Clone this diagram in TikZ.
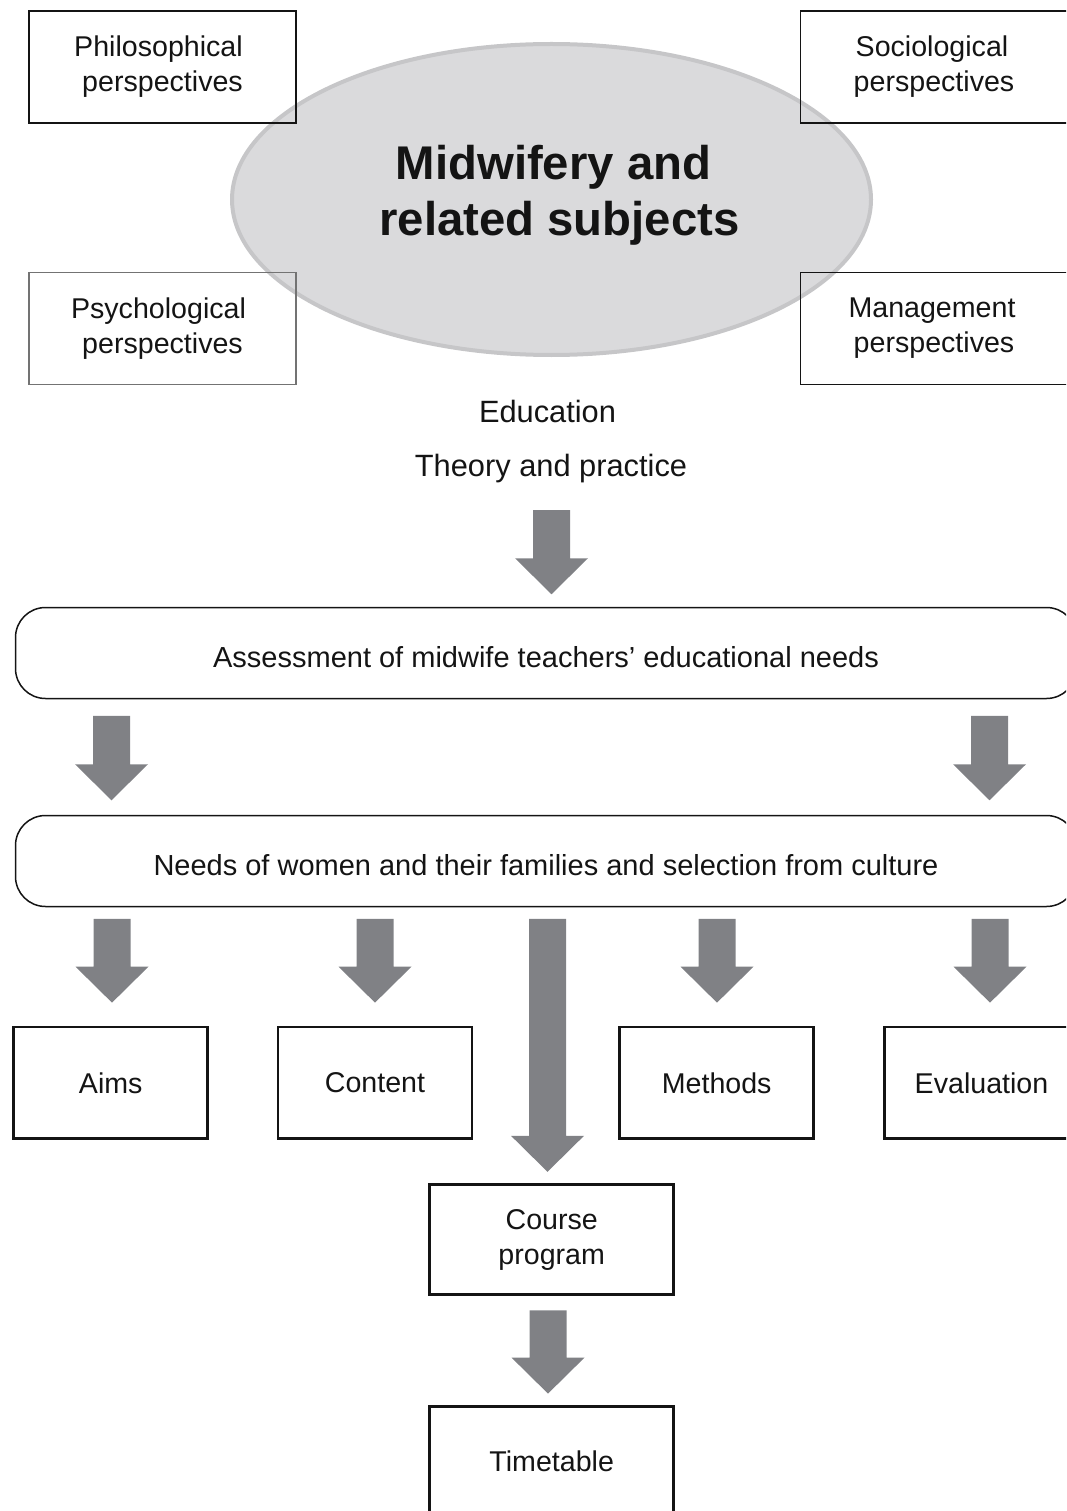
\documentclass[tikz,border=0pt]{standalone}
\usepackage{fontspec}
\setmainfont{Liberation Sans}
\usetikzlibrary{calc,shapes.geometric}
\definecolor{arrowgray}{RGB}{128,129,133}
\definecolor{ovalfill}{RGB}{218,218,220}
\definecolor{ovaledge}{RGB}{198,198,200}
\definecolor{inkblack}{RGB}{20,20,20}
\tikzset{
  perspective/.style={draw=inkblack, line width=1.3pt, minimum width=267pt,
    minimum height=112pt, inner sep=0pt, align=center, text=inkblack,
    font=\fontsize{28.6}{35}\selectfont},
  stagebox/.style={draw=inkblack, line width=1.5pt, rounded corners=30pt,
    minimum width=1061pt, minimum height=91pt, inner sep=0pt, text=inkblack,
    text height=29pt, text depth=0pt,
    font=\fontsize{29}{35}\selectfont},
  itembox/.style={draw=inkblack, line width=2.8pt, minimum width=194pt,
    minimum height=111.5pt, inner sep=0pt, align=center, text=inkblack,
    font=\fontsize{28.6}{35}\selectfont},
  plaintext/.style={inner sep=0pt, anchor=base, text=inkblack,
    font=\fontsize{30.8}{37}\selectfont},
  % thick downward block arrow: shaft from the start point, tip at the target height
  blockarrow/.style={fill=arrowgray, draw=none,
    to path={let \p1=(\tikztostart), \p2=(\tikztotarget) in
      (\x1-18.5pt,\y1) -- (\x1+18.5pt,\y1) -- (\x1+18.5pt,\y2+36pt)
      -- (\x1+36.5pt,\y2+36pt) -- (\x1,\y2) -- (\x1-36.5pt,\y2+36pt)
      -- (\x1-18.5pt,\y2+36pt) -- cycle}},
}
\begin{document}
\begin{tikzpicture}[x=1pt,y=-1pt]
\clip (0,0) rectangle (1066,1511);

% central oval and its title
\node[ellipse, draw=ovaledge, fill=ovalfill, line width=4pt,
      minimum width=639pt, minimum height=311pt, inner sep=0pt] (core) at (551.5,199.5) {};
\node[font=\fontsize{47.3}{56}\selectfont\bfseries, align=center, text=inkblack,
      inner sep=0pt] (title) at (559.5,195) {Midwifery and\hspace*{12pt}\\related subjects};

% the four perspectives
\node[perspective] (philo) at (162.5,67) {Philosophical\hspace*{8pt}\\perspectives};
\node[perspective] (socio) at (934,67) {Sociological\hspace*{4pt}\\perspectives};
\node[perspective, draw=black!55] (psycho) at (162.5,328.5) {Psychological\hspace*{8pt}\\perspectives};
\node[perspective] (manage) at (934,328.5) {Management\hspace*{4pt}\\perspectives};

% education labels
\node[plaintext] (edu) at (547.5,422.7) {Education};
\node[plaintext] (theory) at (551,476.7) {Theory and practice};

% stages
\node[stagebox] (assess) at (546,653) {Assessment of midwife teachers’ educational needs};
\node[stagebox] (needs) at (546,861) {Needs of women and their families and selection from culture};

% curriculum elements
\node[itembox] (aims) at (110.7,1082.8) {Aims};
\node[itembox] (content) at (375,1082.8) {Content};
\node[itembox] (methods) at (716.7,1082.8) {Methods};
\node[itembox] (eval) at (981.5,1082.8) {Evaluation};
\node[itembox, minimum width=244pt, minimum height=110pt] (course) at (551.7,1239.7) {Course\\program};
\node[itembox, minimum width=244pt, minimum height=110pt] (timetable) at (551.7,1461.5) {Timetable};

% arrows
\path[blockarrow] ($(theory.south)+(0.5,26.8)$) to ($(assess.north)+(0,-12.5)$);
\path[blockarrow] ($(assess.south -| aims)+(0.8,16.5)$) to ($(needs.north -| aims)+(0,-14.5)$);
\path[blockarrow] ($(assess.south -| eval)+(8,16.5)$) to ($(needs.north -| eval)+(0,-14.5)$);

\path[blockarrow] ($(needs.south -| aims)+(1.3,11.5)$) to ($(aims.north)+(0,-23)$);
\path[blockarrow] ($(needs.south -| content)+(0,11.5)$) to ($(content.north)+(0,-23)$);
\path[blockarrow] ($(needs.south -| methods)+(0.3,11.5)$) to ($(methods.north)+(0,-23)$);
\path[blockarrow] ($(needs.south -| eval)+(8.5,11.5)$) to ($(eval.north)+(0,-23)$);
\path[blockarrow] ($(needs.south -| course)+(-4.2,11.5)$) to ($(course.north)+(0,-11.5)$);

\path[blockarrow] ($(course.south)+(-3.7,14.3)$) to ($(timetable.north)+(0,-11.5)$);
\end{tikzpicture}
\end{document}
